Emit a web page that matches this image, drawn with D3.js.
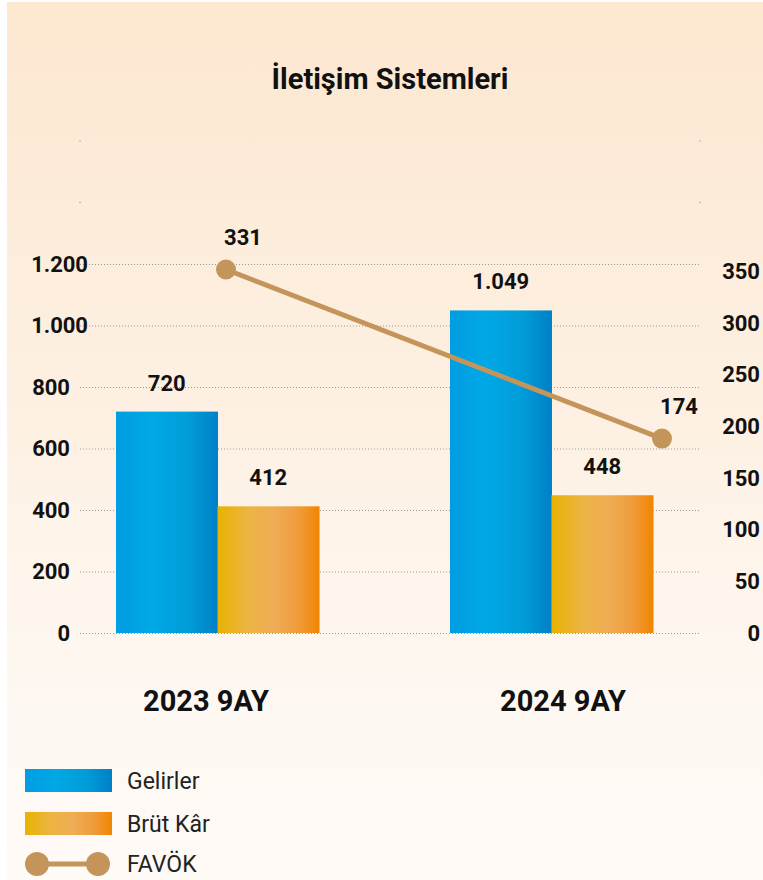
<!DOCTYPE html>
<html><head><meta charset="utf-8">
<script src="https://cdn.jsdelivr.net/npm/d3@7"></script>
<style>
body{margin:0;background:#fff}
svg{display:block}
text{font-family:Roboto,"Noto Sans",sans-serif}
</style>
</head><body>
<svg id="c" width="763" height="880"></svg>
<script>
const title = "İletişim Sistemleri";
const categories = ["2023 9AY", "2024 9AY"];
const seriesNames = ["Gelirler", "Brüt Kâr", "FAVÖK"];
const gelirler = [720, 1049];
const brutKar = [412, 448];
const favok = [331, 174];
const leftTicks = [0, 200, 400, 600, 800, 1000, 1200];
const leftFaintTicks = [1400, 1600];
const rightTicks = [0, 50, 100, 150, 200, 250, 300, 350];

const fmt = v => d3.format(",")(v).replace(/,/g, ".");
const svg = d3.select("#c");
const defs = svg.append("defs");

const bg = defs.append("linearGradient").attr("id","bg").attr("x1",0).attr("y1",0).attr("x2",0).attr("y2",1);
[["0%","#FCE7D0"],["45%","#FDF0E2"],["80%","#FEF8F2"],["100%","#FEFAF6"]].forEach(s=>bg.append("stop").attr("offset",s[0]).attr("stop-color",s[1]));
const blue = defs.append("linearGradient").attr("id","gBlue");
[["0%","#009DE2"],["35%","#00A8E5"],["70%","#009DD9"],["100%","#0080C7"]].forEach(s=>blue.append("stop").attr("offset",s[0]).attr("stop-color",s[1]));
const orange = defs.append("linearGradient").attr("id","gOrange");
[["0%","#E8B300"],["30%","#ECB443"],["55%","#EFAD55"],["80%","#F09B3A"],["100%","#F08500"]].forEach(s=>orange.append("stop").attr("offset",s[0]).attr("stop-color",s[1]));
const fills = ["url(#gBlue)", "url(#gOrange)"];
const lineColor = "#C4955A";

svg.append("rect").attr("x",7).attr("y",2).attr("width",756).attr("height",878).attr("fill","url(#bg)");

svg.append("text").attr("x",390).attr("y",89).attr("text-anchor","middle")
  .attr("font-size",29).attr("font-weight",700).attr("fill","#111").text(title);

const yL = d3.scaleLinear().domain([0,1600]).range([633,141]);
const yR = d3.scaleLinear().domain([0,350]).range([633,271]);
const yLine = d3.scaleLinear().domain([0,350]).range([626,249]);
const x0 = d3.scaleBand().domain(categories).range([116,653]).paddingInner(0.392).paddingOuter(0);
const x1 = d3.scaleBand().domain(seriesNames.slice(0,2)).range([0,x0.bandwidth()]);
const xLine = d3.scalePoint().domain(categories).range([226,662]);
const xLabel = d3.scalePoint().domain(categories).range([206,563]);

// grid
const gx0 = 80, gx1 = 700;
svg.append("g").selectAll("line").data(leftTicks).join("line")
  .attr("x1",gx0).attr("x2",gx1).attr("y1",d=>yL(d)+0.5).attr("y2",d=>yL(d)+0.5)
  .attr("stroke","#9a9a9a").attr("stroke-width",1).attr("stroke-dasharray","1,2");
svg.append("g").selectAll("circle").data(leftFaintTicks.flatMap(t=>[[gx0,t],[gx1,t]])).join("circle")
  .attr("cx",d=>d[0]).attr("cy",d=>yL(d[1])).attr("r",0.8).attr("fill","#aaa");

// left axis labels
svg.append("g").selectAll("text").data(leftTicks).join("text")
  .attr("x",d=> d>=1000 ? 88 : 70).attr("y",d=>yL(d)).attr("dy","0.36em")
  .attr("text-anchor","end").attr("font-size",22).attr("font-weight",700).attr("fill","#111")
  .text(fmt);
// right axis labels
svg.append("g").selectAll("text").data(rightTicks).join("text")
  .attr("x",760).attr("y",d=>yR(d)).attr("dy","0.36em")
  .attr("text-anchor","end").attr("font-size",22).attr("font-weight",700).attr("fill","#111")
  .text(fmt);

// bars
const groups = svg.append("g").selectAll("g").data(categories).join("g")
  .attr("transform",d=>`translate(${x0(d)},0)`);
groups.each(function(c,i){
  const vals = [gelirler[i], brutKar[i]];
  const g = d3.select(this);
  g.selectAll("rect").data(vals).join("rect")
    .attr("x",(v,j)=>x1(seriesNames[j])).attr("width",x1.bandwidth()+0.5)
    .attr("y",v=>yL(v)).attr("height",v=>yL(0)-yL(v))
    .attr("fill",(v,j)=>fills[j]);
  g.selectAll("text").data(vals).join("text")
    .attr("x",(v,j)=>x1(seriesNames[j])+x1.bandwidth()/2).attr("y",v=>yL(v)-29).attr("dy","0.36em")
    .attr("text-anchor","middle").attr("font-size",22).attr("font-weight",700).attr("fill","#111")
    .text(fmt);
});

// category labels
svg.append("g").selectAll("text").data(categories).join("text")
  .attr("x",d=>xLabel(d)).attr("y",711).attr("text-anchor","middle")
  .attr("font-size",29).attr("font-weight",700).attr("fill","#111").text(d=>d);

// FAVÖK line
const line = d3.line().x((v,i)=>xLine(categories[i])).y(v=>yLine(v));
svg.append("path").datum(favok).attr("d",line).attr("fill","none")
  .attr("stroke",lineColor).attr("stroke-width",5);
svg.append("g").selectAll("circle").data(favok).join("circle")
  .attr("cx",(v,i)=>xLine(categories[i])).attr("cy",v=>yLine(v)).attr("r",10).attr("fill",lineColor);
svg.append("g").selectAll("text").data(favok).join("text")
  .attr("x",(v,i)=>xLine(categories[i])+17).attr("y",v=>yLine(v)-32).attr("dy","0.36em")
  .attr("text-anchor","middle").attr("font-size",22).attr("font-weight",700).attr("fill","#111")
  .text(fmt);

// legend
const leg = svg.append("g");
const legY = [781, 824, 864];
seriesNames.forEach((n,i)=>{
  if(i<2){
    leg.append("rect").attr("x",25).attr("y",legY[i]-12).attr("width",87).attr("height",23).attr("fill",fills[i]);
  } else {
    leg.append("line").attr("x1",37).attr("x2",98).attr("y1",legY[i]).attr("y2",legY[i]).attr("stroke",lineColor).attr("stroke-width",5);
    [37,98].forEach(cx=>leg.append("circle").attr("cx",cx).attr("cy",legY[i]).attr("r",12).attr("fill",lineColor));
  }
  leg.append("text").attr("x",127).attr("y",legY[i]).attr("dy","0.36em")
    .attr("font-size",23).attr("fill","#222").text(n);
});
</script>
</body></html>
